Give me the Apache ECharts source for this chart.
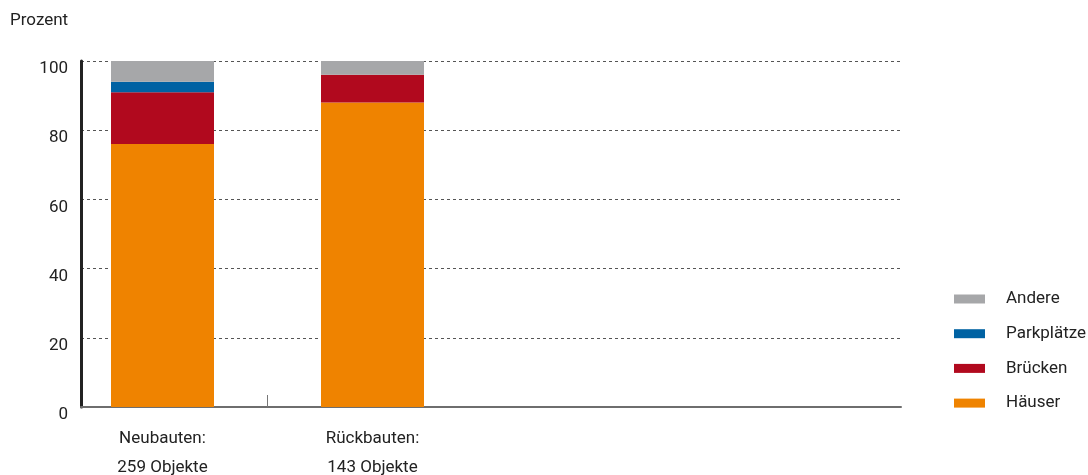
<!DOCTYPE html>
<html>
<head>
<meta charset="utf-8">
<script src="https://cdn.jsdelivr.net/npm/echarts@6/dist/echarts.min.js"></script>
<style>
html,body{margin:0;padding:0;background:#fff;}
#chart{width:1088px;height:475px;}
</style>
</head>
<body>
<div id="chart"></div>
<script>
var categories = ['Neubauten:\n259 Objekte', 'Rückbauten:\n143 Objekte'];
var seriesNames = ['Häuser', 'Brücken', 'Parkplätze', 'Andere'];
var haeuser = [76, 88];
var bruecken = [15, 8];
var parkplaetze = [3, 0];
var andere = [6, 4];
var yTicks = [0, 20, 40, 60, 80, 100];

var colors = {
  'Häuser': '#ef8300',
  'Brücken': '#b1091e',
  'Parkplätze': '#0062a3',
  'Andere': '#a6a7a9'
};
var valuesByName = {
  'Häuser': haeuser,
  'Brücken': bruecken,
  'Parkplätze': parkplaetze,
  'Andere': andere
};
var FONT = 'Roboto, "Liberation Sans", sans-serif';
var FS = 17;
var TXT = '#222222';

// layout: four equal category slots of 210px starting at x=57.5
var SLOT_LEFT = 57.5, SLOT = 210, AXIS_LEFT = 81, AXIS_RIGHT = 901;
var axisCategories = categories.concat(['', '']);

var chart = echarts.init(document.getElementById('chart'), null, {renderer: 'canvas'});

var series = seriesNames.map(function (name) {
  return {
    name: name,
    type: 'bar',
    stack: 'total',
    barWidth: 103,
    xAxisIndex: 0,
    yAxisIndex: 0,
    itemStyle: {color: colors[name]},
    data: valuesByName[name].slice()
  };
});

chart.setOption({
  animation: false,
  textStyle: {fontFamily: FONT},
  title: {
    text: 'Prozent',
    left: 5,
    top: 7,
    textStyle: {fontFamily: FONT, fontSize: FS, fontWeight: 'normal', color: TXT}
  },
  legend: {
    orient: 'vertical',
    left: 949,
    top: 284,
    itemWidth: 31,
    itemHeight: 9,
    itemGap: 14.7,
    icon: 'rect',
    data: ['Andere', 'Parkplätze', 'Brücken', 'Häuser'],
    textStyle: {fontFamily: FONT, fontSize: FS, color: TXT, lineHeight: 20, padding: [0, 0, 0, 16]}
  },
  grid: [
    {left: SLOT_LEFT, width: SLOT * 4, top: 61, bottom: 68, containLabel: false, outerBoundsMode: 'none'},
    {left: AXIS_LEFT, width: AXIS_RIGHT - AXIS_LEFT, top: 61, bottom: 68, containLabel: false, outerBoundsMode: 'none'}
  ],
  xAxis: [
    {
      gridIndex: 0,
      type: 'category',
      data: axisCategories,
      boundaryGap: true,
      axisLine: {show: false},
      axisTick: {show: false},
      axisLabel: {
        show: true,
        interval: 0,
        margin: 17,
        fontFamily: FONT,
        fontSize: FS,
        lineHeight: 29,
        color: TXT
      },
      splitLine: {show: false}
    },
    {
      gridIndex: 1,
      type: 'value',
      // expressed in category-slot units so the tick sits on the slot boundary
      min: (AXIS_LEFT - SLOT_LEFT) / SLOT,
      max: (AXIS_RIGHT - SLOT_LEFT) / SLOT,
      axisLine: {show: true, onZero: false, lineStyle: {color: '#6e6e6e', width: 2}},
      axisTick: {
        show: true,
        inside: true,
        length: 12,
        customValues: [1],
        lineStyle: {color: '#777777', width: 1}
      },
      axisLabel: {show: false},
      splitLine: {show: false}
    }
  ],
  yAxis: [
    {
      gridIndex: 0,
      type: 'value',
      min: yTicks[0],
      max: yTicks[yTicks.length - 1],
      interval: yTicks[1] - yTicks[0],
      show: false
    },
    {
      gridIndex: 1,
      type: 'value',
      min: yTicks[0],
      max: yTicks[yTicks.length - 1],
      interval: yTicks[1] - yTicks[0],
      axisLine: {show: true, lineStyle: {color: '#222222', width: 3}},
      axisTick: {show: false},
      axisLabel: {
        margin: 13,
        fontFamily: FONT,
        fontSize: FS,
        color: TXT,
        verticalAlign: 'top',
        lineHeight: 16
      },
      splitLine: {show: true, lineStyle: {color: '#555555', type: [3, 3], width: 1}}
    }
  ],
  series: series
});
</script>
</body>
</html>
